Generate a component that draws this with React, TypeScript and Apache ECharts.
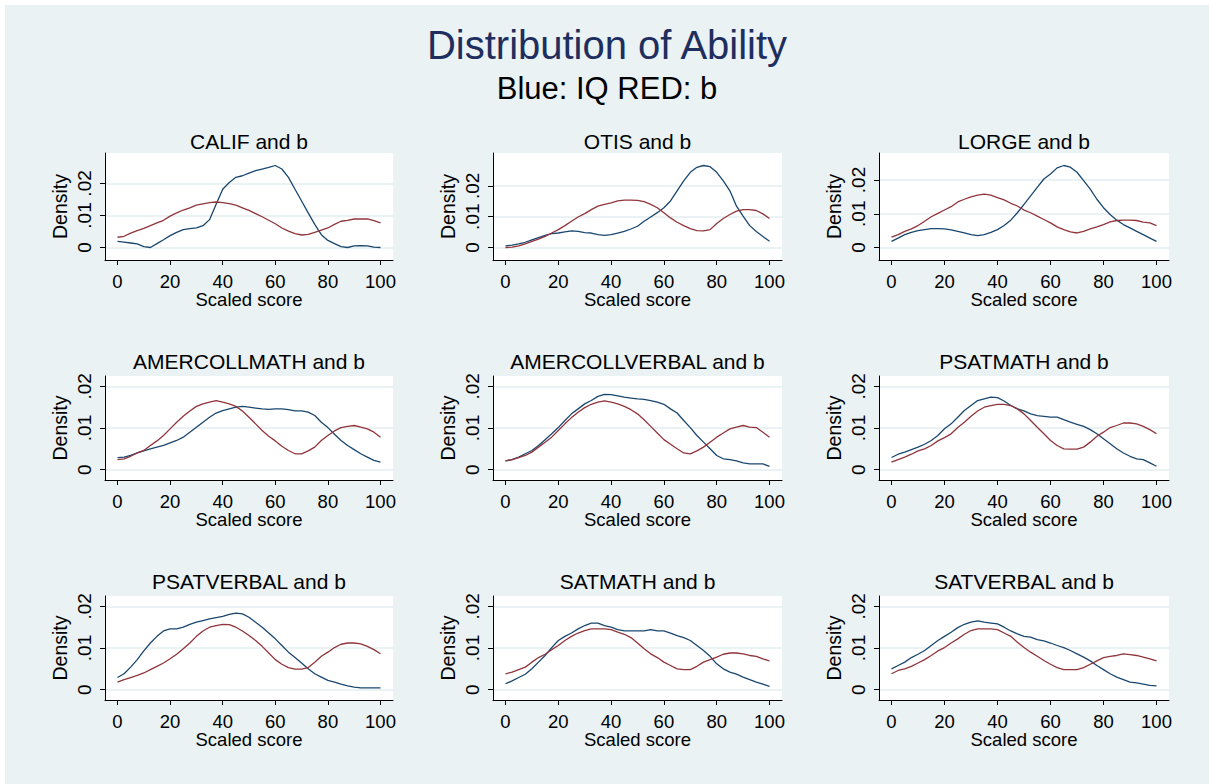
import React, { useEffect, useRef } from 'react';
import * as echarts from 'echarts';

// ---------------- data ----------------
const MAIN_TITLE = 'Distribution of Ability';
const SUBTITLE = 'Blue: IQ RED: b';
const X_TITLE = 'Scaled score';
const Y_TITLE = 'Density';
const X_TICKS = [0, 20, 40, 60, 80, 100];
const Y_TICKS = [0, 0.01, 0.02];
const Y_TICK_LABELS = ['0', '.01', '.02'];

const SCORES = [0, 2.5, 5, 7.5, 10, 12.5, 15, 17.5, 20, 22.5, 25, 27.5, 30, 32.5, 35, 37.5, 40, 42.5, 45, 47.5, 50,
  52.5, 55, 57.5, 60, 62.5, 65, 67.5, 70, 72.5, 75, 77.5, 80, 82.5, 85, 87.5, 90, 92.5, 95, 97.5, 100];

const CALIF_IQ = [0.0019, 0.0017, 0.0014, 0.0011, 0.0003, 0.0, 0.0012, 0.0024, 0.0037, 0.0047, 0.0056, 0.0059, 0.0061, 0.0068, 0.0087, 0.0135, 0.0182, 0.0203, 0.0219, 0.0224, 0.0232, 0.024, 0.0245, 0.025, 0.0256, 0.0245, 0.0219, 0.0182, 0.0145, 0.0108, 0.0072, 0.004, 0.0022, 0.0012, 0.0003, 0.0, 0.0005, 0.0006, 0.0005, 0.0001, 0.0];
const CALIF_B = [0.0032, 0.0035, 0.0045, 0.0053, 0.006, 0.0068, 0.0077, 0.0085, 0.0098, 0.0108, 0.0117, 0.0124, 0.0132, 0.0136, 0.014, 0.0142, 0.014, 0.0137, 0.0132, 0.0124, 0.0116, 0.0106, 0.0096, 0.0085, 0.0074, 0.0061, 0.0051, 0.0043, 0.0039, 0.0041, 0.0047, 0.0054, 0.0061, 0.0072, 0.0082, 0.0085, 0.0089, 0.0089, 0.0089, 0.0084, 0.0077];

const OTIS_IQ = [0.0005, 0.0008, 0.0012, 0.0017, 0.0025, 0.0032, 0.0039, 0.0045, 0.0047, 0.0051, 0.0054, 0.0052, 0.0048, 0.0047, 0.0042, 0.0039, 0.0042, 0.0047, 0.0052, 0.006, 0.0069, 0.0085, 0.0099, 0.0113, 0.0129, 0.0151, 0.0184, 0.0216, 0.0244, 0.026, 0.0266, 0.0262, 0.0244, 0.0216, 0.0184, 0.0134, 0.0102, 0.0071, 0.0052, 0.0036, 0.002];
const OTIS_B = [0.0, 0.0001, 0.0005, 0.0012, 0.002, 0.0027, 0.0036, 0.0047, 0.0058, 0.0071, 0.0085, 0.0099, 0.011, 0.0123, 0.0134, 0.014, 0.0145, 0.0151, 0.0154, 0.0154, 0.0153, 0.0149, 0.014, 0.0129, 0.0113, 0.0096, 0.0082, 0.0071, 0.0061, 0.0055, 0.0054, 0.0058, 0.0078, 0.0094, 0.0107, 0.0118, 0.0123, 0.0123, 0.012, 0.0109, 0.0094];

const LORGE_IQ = [0.0018, 0.0028, 0.0038, 0.0045, 0.005, 0.0053, 0.0056, 0.0056, 0.0055, 0.0052, 0.0048, 0.0043, 0.0038, 0.0035, 0.0038, 0.0045, 0.0053, 0.0065, 0.0081, 0.0103, 0.0128, 0.0153, 0.0178, 0.0203, 0.0218, 0.0236, 0.0243, 0.0238, 0.0223, 0.0198, 0.0173, 0.0143, 0.0118, 0.0098, 0.0081, 0.0068, 0.0058, 0.0048, 0.0038, 0.0028, 0.0018];
const LORGE_B = [0.0031, 0.0038, 0.0048, 0.0055, 0.0065, 0.0078, 0.0091, 0.0101, 0.0111, 0.0121, 0.0135, 0.0143, 0.015, 0.0155, 0.0158, 0.0155, 0.0148, 0.0141, 0.0131, 0.0123, 0.0111, 0.0103, 0.0093, 0.0083, 0.0073, 0.0061, 0.0053, 0.0046, 0.0043, 0.0048, 0.0055, 0.0061, 0.0068, 0.0076, 0.008, 0.0081, 0.0081, 0.008, 0.0075, 0.0073, 0.0065];

const AMERCOLLMATH_IQ = [0.0029, 0.003, 0.0034, 0.004, 0.0045, 0.005, 0.0054, 0.0058, 0.0064, 0.007, 0.0078, 0.009, 0.0102, 0.0114, 0.0126, 0.0136, 0.0142, 0.0146, 0.015, 0.0152, 0.015, 0.0148, 0.0146, 0.0145, 0.0146, 0.0146, 0.0144, 0.0141, 0.0141, 0.0138, 0.013, 0.0114, 0.0101, 0.0085, 0.007, 0.0058, 0.0048, 0.0038, 0.003, 0.0022, 0.0018];
const AMERCOLLMATH_B = [0.0024, 0.0026, 0.0032, 0.004, 0.0046, 0.0058, 0.0069, 0.0082, 0.0098, 0.0114, 0.0128, 0.0141, 0.0152, 0.0158, 0.0162, 0.0166, 0.0162, 0.0158, 0.0152, 0.0141, 0.0126, 0.011, 0.0094, 0.008, 0.0069, 0.0056, 0.0046, 0.0038, 0.0038, 0.0045, 0.0054, 0.007, 0.0082, 0.0093, 0.0101, 0.0104, 0.0106, 0.0102, 0.0098, 0.009, 0.0078];

const AMERCOLLVERBAL_IQ = [0.0021, 0.0024, 0.003, 0.0038, 0.0046, 0.0058, 0.0072, 0.0086, 0.0101, 0.0118, 0.0134, 0.0146, 0.0158, 0.0166, 0.0176, 0.0181, 0.018, 0.0177, 0.0174, 0.0172, 0.017, 0.0169, 0.0166, 0.0162, 0.0157, 0.0146, 0.0136, 0.0118, 0.0101, 0.0082, 0.0066, 0.005, 0.0034, 0.0026, 0.0024, 0.0021, 0.0016, 0.0014, 0.0014, 0.0014, 0.0008];
const AMERCOLLVERBAL_B = [0.0021, 0.0024, 0.0029, 0.0034, 0.0042, 0.0054, 0.0066, 0.0078, 0.0094, 0.011, 0.0125, 0.0138, 0.0149, 0.0157, 0.0162, 0.0165, 0.0162, 0.0158, 0.0152, 0.0144, 0.0134, 0.012, 0.0104, 0.0088, 0.0072, 0.0061, 0.005, 0.004, 0.0038, 0.0045, 0.0054, 0.0066, 0.0078, 0.0088, 0.0098, 0.0102, 0.0106, 0.0102, 0.0101, 0.009, 0.0078];

const PSATMATH_IQ = [0.0029, 0.0037, 0.0042, 0.0048, 0.0054, 0.0061, 0.007, 0.0082, 0.0098, 0.011, 0.0126, 0.0142, 0.0154, 0.0166, 0.017, 0.0174, 0.0173, 0.0165, 0.0154, 0.0146, 0.0141, 0.0134, 0.013, 0.0128, 0.0126, 0.0126, 0.012, 0.0114, 0.0109, 0.0104, 0.0096, 0.0086, 0.0074, 0.0062, 0.005, 0.004, 0.0032, 0.0026, 0.0024, 0.0016, 0.0008];
const PSATMATH_B = [0.0018, 0.0024, 0.003, 0.0037, 0.0045, 0.005, 0.0058, 0.0069, 0.0077, 0.0086, 0.0101, 0.0114, 0.0128, 0.0141, 0.015, 0.0154, 0.0157, 0.0157, 0.0154, 0.0146, 0.0134, 0.0118, 0.0102, 0.0086, 0.007, 0.0058, 0.005, 0.0049, 0.0049, 0.0054, 0.0066, 0.008, 0.009, 0.0101, 0.0106, 0.0112, 0.0112, 0.011, 0.0104, 0.0096, 0.0086];

const PSATVERBAL_IQ = [0.0029, 0.0038, 0.0054, 0.0072, 0.0093, 0.0112, 0.0128, 0.0141, 0.0146, 0.0146, 0.015, 0.0157, 0.0162, 0.0166, 0.017, 0.0173, 0.0176, 0.0181, 0.0184, 0.0182, 0.0174, 0.0162, 0.015, 0.0136, 0.0122, 0.0106, 0.009, 0.0077, 0.0064, 0.005, 0.0038, 0.003, 0.0022, 0.0018, 0.0013, 0.0009, 0.0006, 0.0004, 0.0004, 0.0004, 0.0004];
const PSATVERBAL_B = [0.0018, 0.0024, 0.0029, 0.0034, 0.004, 0.0048, 0.0056, 0.0064, 0.0074, 0.0085, 0.0098, 0.0112, 0.0128, 0.0141, 0.015, 0.0154, 0.0157, 0.0156, 0.015, 0.0141, 0.013, 0.0118, 0.0104, 0.0088, 0.0072, 0.0061, 0.0053, 0.0049, 0.0049, 0.0053, 0.0066, 0.008, 0.009, 0.0101, 0.0109, 0.0112, 0.0112, 0.011, 0.0104, 0.0096, 0.0086];

const SATMATH_IQ = [0.0014, 0.0021, 0.0029, 0.0037, 0.005, 0.0066, 0.0082, 0.0101, 0.0118, 0.0128, 0.0136, 0.0146, 0.0154, 0.016, 0.016, 0.0154, 0.015, 0.0144, 0.0141, 0.0141, 0.0141, 0.0141, 0.0144, 0.0141, 0.0141, 0.0136, 0.013, 0.0125, 0.0118, 0.0106, 0.0094, 0.008, 0.0062, 0.005, 0.0042, 0.0037, 0.003, 0.0024, 0.0018, 0.0013, 0.0008];
const SATMATH_B = [0.0038, 0.0042, 0.0048, 0.0054, 0.0066, 0.0077, 0.0085, 0.0096, 0.0106, 0.0118, 0.0128, 0.0136, 0.0142, 0.0146, 0.0146, 0.0146, 0.0144, 0.0138, 0.0133, 0.0125, 0.0112, 0.0098, 0.0086, 0.0077, 0.0066, 0.0058, 0.005, 0.0048, 0.0048, 0.0056, 0.0066, 0.0072, 0.0078, 0.0085, 0.0088, 0.0088, 0.0086, 0.0082, 0.008, 0.0074, 0.0069];

const SATVERBAL_IQ = [0.005, 0.0058, 0.0066, 0.0077, 0.0085, 0.0094, 0.0106, 0.0118, 0.0128, 0.0138, 0.0149, 0.0157, 0.0162, 0.0165, 0.0162, 0.016, 0.0158, 0.015, 0.0141, 0.0134, 0.0128, 0.0126, 0.012, 0.0117, 0.0112, 0.0106, 0.0101, 0.0094, 0.0086, 0.0078, 0.0069, 0.0058, 0.0048, 0.0038, 0.003, 0.0024, 0.0018, 0.0016, 0.0013, 0.001, 0.0009];
const SATVERBAL_B = [0.0038, 0.0046, 0.005, 0.0056, 0.0064, 0.0072, 0.0082, 0.0093, 0.0101, 0.0112, 0.0122, 0.0133, 0.0142, 0.0146, 0.0146, 0.0146, 0.0144, 0.0136, 0.0128, 0.0114, 0.0101, 0.009, 0.008, 0.007, 0.0061, 0.0053, 0.0048, 0.0048, 0.0048, 0.0053, 0.0061, 0.0069, 0.0077, 0.008, 0.0082, 0.0086, 0.0084, 0.0082, 0.0078, 0.0074, 0.0069];

const PANEL_NAMES = ['CALIF', 'OTIS', 'LORGE', 'AMERCOLLMATH', 'AMERCOLLVERBAL', 'PSATMATH', 'PSATVERBAL', 'SATMATH', 'SATVERBAL'];
const IQ_SERIES = [CALIF_IQ, OTIS_IQ, LORGE_IQ, AMERCOLLMATH_IQ, AMERCOLLVERBAL_IQ, PSATMATH_IQ, PSATVERBAL_IQ, SATMATH_IQ, SATVERBAL_IQ];
const B_SERIES = [CALIF_B, OTIS_B, LORGE_B, AMERCOLLMATH_B, AMERCOLLVERBAL_B, PSATMATH_B, PSATVERBAL_B, SATMATH_B, SATVERBAL_B];

// ---------------- layout / style ----------------
const FONT = "'Liberation Sans', Arial, Helvetica, sans-serif";
const OFF = 5; // chart div offset inside the white page border
const GRID_LEFT = [105, 493, 879];
const GRID_WIDTH = [288, 289, 290];
const GRID_TOP = [153, 376, 596];
const GRID_HEIGHT = [107, 104, 104];
const PAD_X = 12.5;
const PAD_Y = [12.5, 10.4, 10.4];
const TITLE_Y = [141.5, 361.5, 581.5];
const BLUE = '#1a476f';
const RED = '#90353b';
const BG = '#EAF2F3';

function buildOption() {
  const grids: any[] = [];
  const xAxes: any[] = [];
  const yAxes: any[] = [];
  const series: any[] = [];
  const graphics: any[] = [];

  graphics.push({
    type: 'text', x: 607 - OFF, y: 45 - OFF, silent: true,
    style: { text: MAIN_TITLE, fontSize: 40, fontFamily: FONT, fill: '#1e2e5e', textAlign: 'center', textVerticalAlign: 'middle', align: 'center', verticalAlign: 'middle' },
  });
  graphics.push({
    type: 'text', x: 607 - OFF, y: 88 - OFF, silent: true,
    style: { text: SUBTITLE, fontSize: 31, fontFamily: FONT, fill: '#000', textAlign: 'center', textVerticalAlign: 'middle', align: 'center', verticalAlign: 'middle' },
  });

  for (let i = 0; i < 9; i++) {
    const r = Math.floor(i / 3);
    const c = i % 3;
    const W = GRID_WIDTH[c];
    const H = GRID_HEIGHT[r];
    const iq = IQ_SERIES[i];
    const b = B_SERIES[i];
    const hi = Math.max(Y_TICKS[Y_TICKS.length - 1], ...iq, ...b);
    const lo = Math.min(Y_TICKS[0], ...iq, ...b);
    const yExt = ((hi - lo) * PAD_Y[r]) / (H - 2 * PAD_Y[r]);
    const xExt = (100 * PAD_X) / (W - 2 * PAD_X);

    grids.push({
      left: GRID_LEFT[c] - OFF, top: GRID_TOP[r] - OFF, width: W, height: H,
      show: true, backgroundColor: '#ffffff', borderWidth: 0, containLabel: false,
    });

    xAxes.push({
      type: 'value', gridIndex: i, min: X_TICKS[0] - xExt, max: X_TICKS[X_TICKS.length - 1] + xExt,
      axisLine: { show: true, onZero: false, lineStyle: { color: '#000', width: 1 } },
      axisTick: { show: true, length: 5, inside: false, customValues: X_TICKS, lineStyle: { color: '#000', width: 1 } },
      axisLabel: { show: true, customValues: X_TICKS, margin: 12, fontSize: 18.5, lineHeight: 18, fontFamily: FONT, color: '#000', hideOverlap: false },
      splitLine: { show: false },
      name: X_TITLE, nameLocation: 'middle', nameGap: 30.5, nameMoveOverlap: false,
      nameTextStyle: { fontSize: 18.5, lineHeight: 18.5, fontFamily: FONT, color: '#000' },
    });

    yAxes.push({
      type: 'value', gridIndex: i, min: lo - yExt, max: hi + yExt,
      axisLine: { show: true, onZero: false, lineStyle: { color: '#000', width: 1 } },
      axisTick: { show: true, length: 5, inside: false, customValues: Y_TICKS, lineStyle: { color: '#000', width: 1 } },
      axisLabel: {
        show: true, customValues: Y_TICKS, rotate: 90, margin: 11, fontSize: 19, fontFamily: FONT, color: '#000', hideOverlap: false,
        formatter: (v: number) => {
          const k = Y_TICKS.findIndex((t) => Math.abs(t - v) < 1e-9);
          return k >= 0 ? Y_TICK_LABELS[k] : '';
        },
      },
      splitLine: { show: true, lineStyle: { color: '#e4eef0', width: 1.5 } },
      name: Y_TITLE, nameLocation: 'middle', nameGap: 35, nameRotate: 90, nameMoveOverlap: false,
      nameTextStyle: { fontSize: 19.5, fontFamily: FONT, color: '#000' },
    });

    series.push({
      type: 'line', name: PANEL_NAMES[i] + ' IQ', xAxisIndex: i, yAxisIndex: i,
      data: SCORES.map((x, k) => [x, iq[k]]),
      showSymbol: false, symbol: 'none', silent: true,
      lineStyle: { color: BLUE, width: 1.3 }, itemStyle: { color: BLUE },
    });
    series.push({
      type: 'line', name: PANEL_NAMES[i] + ' b', xAxisIndex: i, yAxisIndex: i,
      data: SCORES.map((x, k) => [x, b[k]]),
      showSymbol: false, symbol: 'none', silent: true,
      lineStyle: { color: RED, width: 1.3 }, itemStyle: { color: RED },
    });

    graphics.push({
      type: 'text', x: GRID_LEFT[c] + W / 2 - OFF, y: TITLE_Y[r] - OFF, silent: true,
      style: { text: PANEL_NAMES[i] + ' and b', fontSize: 21, fontFamily: FONT, fill: '#000', textAlign: 'center', textVerticalAlign: 'middle', align: 'center', verticalAlign: 'middle' },
    });
  }

  return {
    animation: false,
    backgroundColor: BG,
    grid: grids,
    xAxis: xAxes,
    yAxis: yAxes,
    series,
    graphic: { elements: graphics },
  };
}

export default function App() {
  const ref = useRef<HTMLDivElement>(null);
  useEffect(() => {
    if (!ref.current) return;
    const chart = echarts.init(ref.current, undefined, { renderer: 'svg' });
    chart.setOption(buildOption() as any);
    return () => chart.dispose();
  }, []);
  return (
    <div style={{ position: 'fixed', left: 0, top: 0, width: 1209, height: 784, background: '#ffffff' }}>
      <div ref={ref} style={{ position: 'absolute', left: OFF, top: OFF, width: 1209 - OFF, height: 784 - OFF }} />
    </div>
  );
}
